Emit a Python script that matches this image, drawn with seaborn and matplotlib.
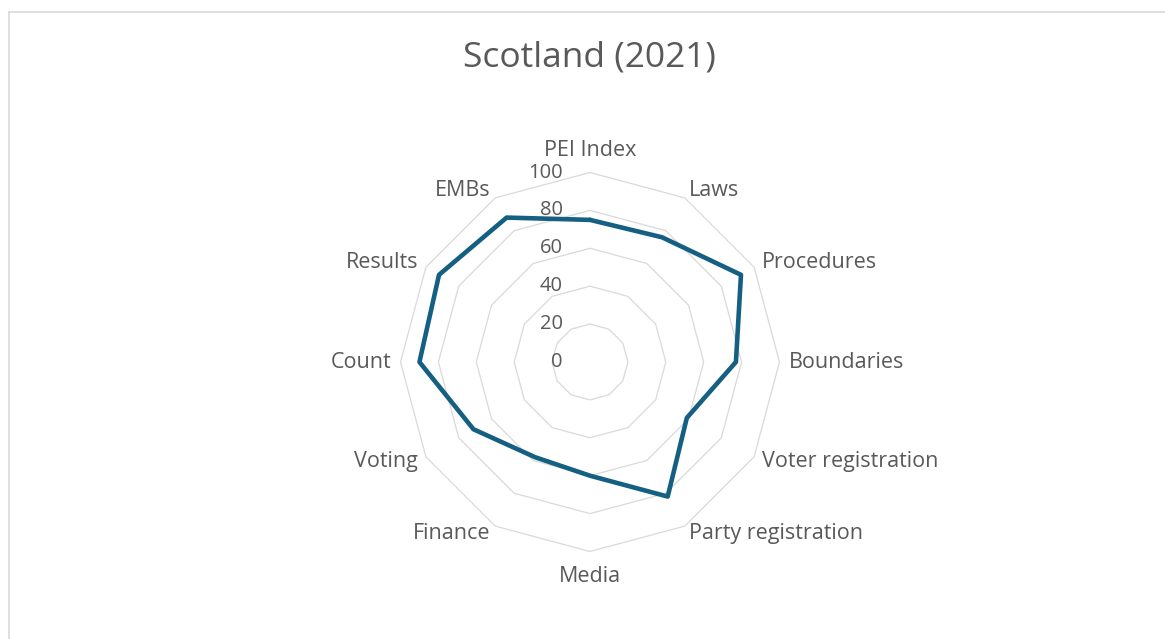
import numpy as np
import pandas as pd
import matplotlib.pyplot as plt
from matplotlib.lines import Line2D
import seaborn as sns

# data
categories = ['PEI Index', 'Laws', 'Procedures', 'Boundaries', 'Voter registration',
              'Party registration', 'Media', 'Finance', 'Voting', 'Count', 'Results', 'EMBs']
scores = [75, 76, 92, 77, 59, 82, 60, 58, 71, 90, 92, 88]
ring_ticks = [0, 20, 40, 60, 80, 100]

sns.set_theme(style='white')
plt.rcParams['font.family'] = ['Open Sans', 'DejaVu Sans']

text_col = '#595959'
grid_col = '#d9d9d9'
line_col = '#156082'

n = len(categories)
angles = np.linspace(0, 2 * np.pi, n, endpoint=False)
df = pd.DataFrame({'angle': np.append(angles, angles[0] + 2 * np.pi),
                   'score': scores + scores[:1]})

W, H = 1165, 639
fig = plt.figure(figsize=(W / 100, H / 100), dpi=100)
cx, cy, R = 590, 362, 189.5
ax = fig.add_axes([(cx - R) / W, (H - cy - R) / H, 2 * R / W, 2 * R / H], projection='polar')
ax.set_theta_offset(np.pi / 2)
ax.set_theta_direction(-1)
ax.set_ylim(0, 100)
ax.set_xticks([])
ax.set_yticks([])
ax.grid(False)
ax.spines['polar'].set_visible(False)
ax.set_facecolor('none')

# polygon gridlines
ring_angles = np.append(angles, angles[0])
for r in ring_ticks[1:]:
    ax.plot(ring_angles, [r] * len(ring_angles), color=grid_col, lw=0.9, clip_on=False, zorder=1)

sns.lineplot(data=df, x='angle', y='score', sort=False, color=line_col, lw=3.3,
             ax=ax, zorder=3, clip_on=False)
ax.set_xlabel('')
ax.set_ylabel('')

# radial tick labels
px = 0.72
for r in ring_ticks:
    ax.annotate(str(r), xy=(0, r), xytext=(-27 * px, 0), textcoords='offset points',
                ha='right', va='center', fontsize=14.5, color=text_col)

# category labels
for a, lab in zip(angles, categories):
    dx, dy = np.sin(a), np.cos(a)
    ha = 'left' if dx > 0.1 else ('right' if dx < -0.1 else 'center')
    if dy > 0.9:
        va, off = 'bottom', 12
    elif dy < -0.9:
        va, off = 'top', 14
    else:
        va, off = 'center', 9
    ax.annotate(lab, xy=(a, 100), xytext=(off * dx * px, off * dy * px),
                textcoords='offset points', ha=ha, va=va, fontsize=15.5, color=text_col,
                annotation_clip=False)

fig.text(589 / W, 1 - 58 / H, 'Scotland (2021)', ha='center', va='center',
         fontsize=25.5, color=text_col)

# chart frame
fig.add_artist(Line2D([9 / W, 1], [1 - 12 / H, 1 - 12 / H], color=grid_col, lw=1.2))
fig.add_artist(Line2D([9 / W, 9 / W], [0, 1 - 12 / H], color=grid_col, lw=1.2))

fig.savefig('out.png', dpi=100)
